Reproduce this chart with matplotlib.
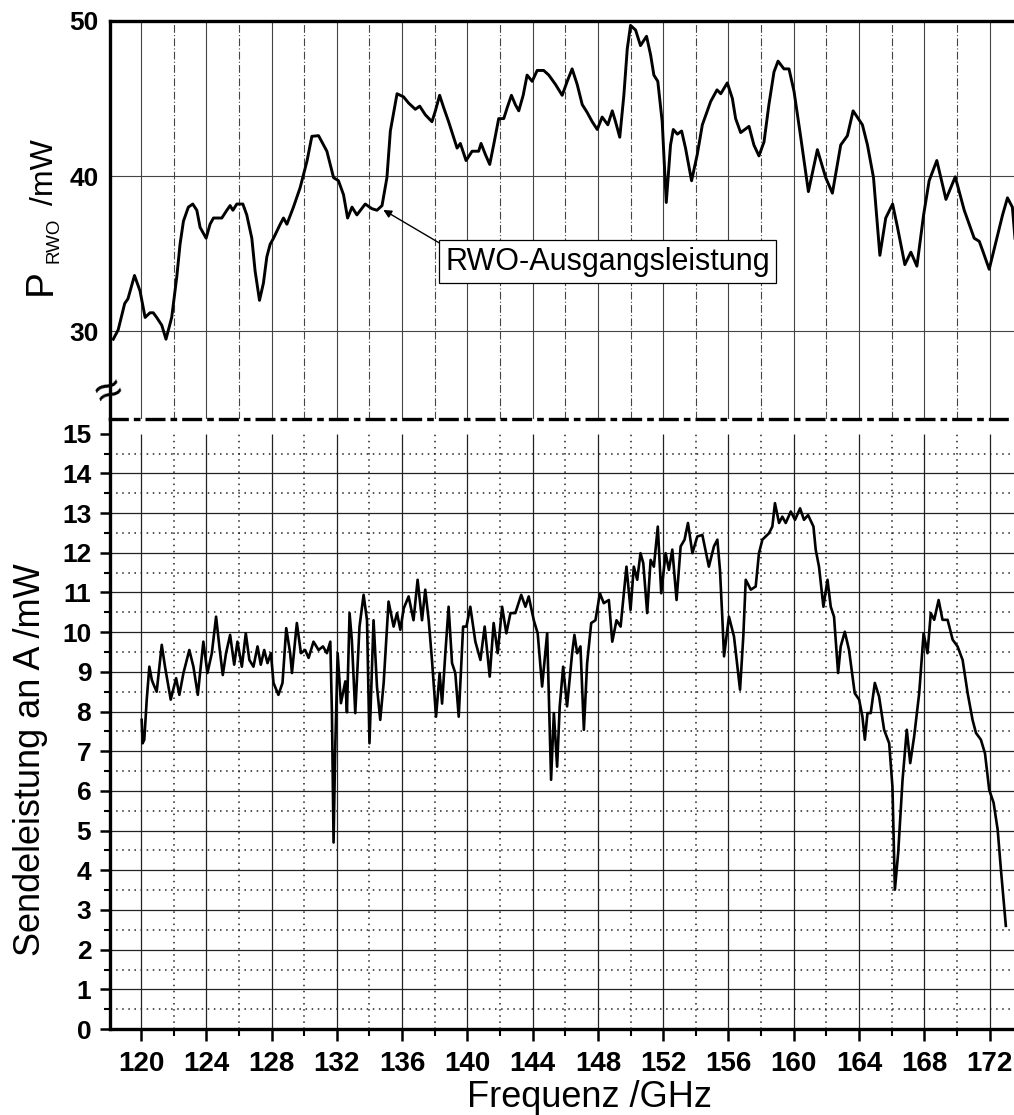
import matplotlib
matplotlib.use('Agg')
import matplotlib.pyplot as plt
import numpy as np

plt.rcParams['font.family'] = ['Liberation Sans', 'DejaVu Sans']

# RWO-Ausgangsleistung (oberes Diagramm), GHz / mW
rwo_freq = [118.3, 118.6, 119.0, 119.2, 119.6, 119.94, 120.25, 120.55, 120.75, 120.96,
            121.27, 121.53, 121.88, 122.19, 122.39, 122.6, 122.9, 123.17, 123.42, 123.62,
            123.99, 124.23, 124.44, 124.95, 125.26, 125.46, 125.63, 125.87, 126.24, 126.48,
            126.79, 126.99, 127.26, 127.5, 127.71, 127.91, 128.12, 128.53, 128.73, 128.94,
            129.34, 129.75, 130.17, 130.47, 130.88, 131.39, 131.8, 132.1, 132.41, 132.66,
            132.93, 133.23, 133.74, 134.15, 134.46, 134.77, 135.07, 135.28, 135.69, 136.09,
            136.4, 136.81, 137.08, 137.42, 137.83, 138.04, 138.3, 138.55, 138.85, 139.16,
            139.37, 139.57, 139.92, 140.29, 140.69, 140.84, 141.1, 141.37, 141.61, 141.92,
            142.23, 142.44, 142.7, 142.94, 143.15, 143.42, 143.66, 143.97, 144.28, 144.68,
            144.99, 145.4, 145.81, 146.12, 146.42, 146.73, 147.04, 147.34, 147.65, 147.96,
            148.26, 148.61, 148.88, 149.08, 149.34, 149.59, 149.8, 150.0, 150.31, 150.61,
            150.98, 151.23, 151.43, 151.67, 151.94, 152.19, 152.45, 152.62, 152.87, 153.13,
            153.37, 153.74, 154.09, 154.4, 154.91, 155.3, 155.53, 155.93, 156.24, 156.44,
            156.75, 157.26, 157.56, 157.87, 158.18, 158.48, 158.79, 159.04, 159.4, 159.71,
            160.02, 160.43, 160.9, 161.45, 161.96, 162.37, 162.88, 163.29, 163.64, 164.21,
            164.52, 164.89, 165.28, 165.64, 166.06, 166.36, 166.81, 167.18, 167.55, 167.96,
            168.3, 168.77, 169.33, 169.9, 170.45, 171.06, 171.37, 171.58, 171.98, 172.8,
            173.1, 173.4, 173.56]
rwo_power = [29.5, 30.1, 31.8, 32.1, 33.6, 32.6, 30.9, 31.2, 31.2, 30.9,
             30.4, 29.5, 30.9, 33.5, 35.6, 37.1, 38.0, 38.2, 37.8, 36.7,
             36.0, 36.9, 37.3, 37.3, 37.8, 38.1, 37.8, 38.2, 38.2, 37.5,
             36.0, 33.9, 32.0, 33.1, 34.8, 35.6, 36.0, 36.9, 37.3, 36.9,
             38.0, 39.25, 40.96, 42.56, 42.6, 41.6, 39.9, 39.7, 38.8, 37.3,
             38.0, 37.5, 38.2, 37.9, 37.8, 38.1, 39.9, 42.9, 45.3, 45.1,
             44.7, 44.3, 44.5, 43.95, 43.5, 44.2, 45.2, 44.4, 43.5, 42.5,
             41.8, 42.1, 41.0, 41.6, 41.6, 42.1, 41.4, 40.75, 42.0, 43.7,
             43.7, 44.4, 45.2, 44.6, 44.2, 45.2, 46.5, 46.1, 46.8, 46.8,
             46.5, 45.9, 45.2, 46.1, 46.9, 45.9, 44.6, 44.1, 43.5, 43.0,
             43.8, 43.3, 44.2, 43.5, 42.5, 45.2, 48.2, 49.7, 49.4, 48.4,
             49.0, 47.8, 46.5, 46.1, 43.5, 38.3, 42.0, 43.0, 42.7, 42.9,
             41.8, 39.7, 41.4, 43.3, 44.8, 45.55, 45.3, 46.0, 45.0, 43.7,
             42.8, 43.2, 42.0, 41.3, 42.2, 44.6, 46.7, 47.4, 46.9, 46.9,
             45.45, 42.5, 39.0, 41.7, 39.9, 38.9, 42.0, 42.6, 44.2, 43.3,
             42.0, 39.9, 34.9, 37.3, 38.2, 36.7, 34.3, 35.1, 34.2, 37.5,
             39.7, 41.0, 38.5, 39.95, 37.8, 36.0, 35.8, 35.2, 34.0, 37.5,
             38.6, 38.0, 36.0]

# Sendeleistung an A (unteres Diagramm), GHz / mW
send_freq = [120.04, 120.1, 120.2, 120.35, 120.51, 120.66, 120.75, 120.96, 121.27, 121.47,
             121.82, 122.15, 122.35, 122.6, 122.96, 123.21, 123.48, 123.62, 123.82, 124.07,
             124.34, 124.6, 124.8, 125.01, 125.21, 125.46, 125.71, 125.91, 126.18, 126.42,
             126.64, 126.89, 127.14, 127.34, 127.55, 127.75, 127.96, 128.12, 128.42, 128.67,
             128.9, 129.14, 129.25, 129.55, 129.8, 130.06, 130.27, 130.57, 130.88, 131.15,
             131.39, 131.6, 131.7, 131.8, 131.9, 132.05, 132.25, 132.52, 132.62, 132.78,
             132.92, 133.13, 133.39, 133.64, 133.85, 134.0, 134.25, 134.46, 134.66, 134.87,
             135.17, 135.48, 135.69, 135.89, 136.1, 136.4, 136.7, 136.95, 137.22, 137.42,
             137.63, 137.83, 138.08, 138.3, 138.45, 138.65, 138.85, 139.06, 139.26, 139.47,
             139.74, 139.94, 140.18, 140.49, 140.8, 141.06, 141.37, 141.61, 141.86, 142.13,
             142.39, 142.64, 142.94, 143.3, 143.56, 143.76, 144.07, 144.31, 144.58, 144.89,
             145.13, 145.3, 145.5, 145.66, 145.87, 146.11, 146.42, 146.56, 146.73, 146.93,
             147.14, 147.34, 147.59, 147.85, 148.12, 148.36, 148.67, 148.88, 149.14, 149.39,
             149.75, 150.0, 150.2, 150.41, 150.61, 150.78, 151.02, 151.23, 151.43, 151.67,
             151.88, 152.15, 152.35, 152.56, 152.82, 153.07, 153.31, 153.52, 153.79, 154.09,
             154.4, 154.8, 155.11, 155.32, 155.48, 155.63, 155.73, 156.03, 156.34, 156.71,
             156.91, 157.06, 157.37, 157.67, 157.87, 158.08, 158.48, 158.69, 158.85, 159.1,
             159.3, 159.51, 159.82, 160.08, 160.39, 160.63, 160.88, 161.21, 161.35, 161.55,
             161.82, 162.07, 162.27, 162.47, 162.72, 162.88, 163.13, 163.39, 163.74, 164.01,
             164.21, 164.36, 164.52, 164.72, 164.97, 165.23, 165.54, 165.85, 166.05, 166.2,
             166.4, 166.67, 166.93, 167.14, 167.38, 167.69, 167.96, 168.2, 168.4, 168.61,
             168.88, 169.12, 169.43, 169.74, 170.04, 170.35, 170.66, 170.96, 171.17, 171.47,
             171.72, 171.98, 172.25, 172.5, 172.7, 173.0]
send_power = [7.79, 7.2, 7.29, 8.3, 9.13, 8.8, 8.7, 8.5, 9.68, 9.13,
              8.3, 8.84, 8.42, 8.97, 9.55, 9.13, 8.42, 8.97, 9.76, 8.97,
              9.47, 10.39, 9.64, 8.92, 9.47, 9.93, 9.18, 9.76, 9.13, 9.97,
              9.3, 9.13, 9.64, 9.18, 9.55, 9.22, 9.47, 8.72, 8.42, 8.72,
              10.1, 9.47, 8.97, 10.23, 9.47, 9.55, 9.35, 9.76, 9.55, 9.64,
              9.47, 9.76, 7.96, 4.7, 7.04, 9.47, 8.21, 8.76, 7.98, 10.48,
              9.8, 7.96, 10.14, 10.94, 10.3, 7.2, 10.3, 8.63, 7.79, 8.72,
              10.77, 10.14, 10.48, 10.06, 10.6, 10.9, 10.3, 11.32, 10.3, 11.07,
              10.3, 9.3, 7.87, 8.97, 8.2, 9.47, 10.64, 9.22, 8.97, 7.87,
              10.14, 10.14, 10.64, 9.76, 9.3, 10.14, 8.88, 10.23, 9.47, 10.64,
              9.97, 10.48, 10.48, 10.94, 10.64, 10.9, 10.3, 9.97, 8.63, 9.97,
              6.28, 7.96, 6.61, 8.13, 9.13, 8.13, 9.47, 9.93, 9.47, 9.64,
              7.54, 9.22, 10.23, 10.3, 10.98, 10.73, 10.81, 9.76, 10.3, 10.14,
              11.65, 10.56, 11.65, 11.32, 11.99, 11.74, 10.48, 11.82, 11.65, 12.66,
              10.98, 11.99, 11.57, 12.08, 10.81, 12.16, 12.33, 12.75, 11.99, 12.41,
              12.45, 11.65, 12.16, 12.33, 11.57, 10.31, 9.39, 10.39, 9.89, 8.55,
              9.89, 11.32, 11.07, 11.15, 11.99, 12.33, 12.49, 12.66, 13.25, 12.75,
              12.91, 12.75, 13.04, 12.83, 13.12, 12.83, 12.95, 12.66, 12.07, 11.65,
              10.64, 11.32, 10.64, 10.39, 8.97, 9.64, 10.01, 9.55, 8.46, 8.3,
              7.87, 7.29, 7.96, 7.96, 8.72, 8.38, 7.54, 7.2, 6.11, 3.51,
              4.43, 6.28, 7.54, 6.7, 7.37, 8.46, 9.97, 9.47, 10.48, 10.31,
              10.81, 10.31, 10.31, 9.81, 9.64, 9.3, 8.46, 7.79, 7.46, 7.29,
              6.95, 6.03, 5.7, 5.02, 4.01, 2.6]

xmin, xmax = 118.1, 173.5

fig = plt.figure(figsize=(10.14, 11.15), dpi=100)
ax_top = fig.add_axes([0.1085, 0.6242, 0.8915, 0.3572])
ax_bot = fig.add_axes([0.1085, 0.0771, 0.8915, 0.5471])

# --- oberes Diagramm ---
ax_top.set_xlim(xmin, xmax)
ax_top.set_ylim(24.36, 50)
for xv in np.arange(120, 174, 2):
    ls = '-' if xv % 4 == 0 else (0, (7, 2, 1, 2))
    ax_top.vlines(xv, 24.36, 50, colors='#444444', linewidth=0.8, linestyles=ls, zorder=1)
ax_top.hlines([30, 40], xmin, xmax, colors='#444444', linewidth=0.8, zorder=1)
ax_top.plot(rwo_freq, rwo_power, color='black', linewidth=2.1, zorder=3)

ax_top.spines['bottom'].set_visible(False)
ax_top.spines['right'].set_visible(False)
ax_top.spines['top'].set_linewidth(2.4)
ax_top.spines['left'].set_linewidth(2.4)
ax_top.tick_params(axis='x', which='both', bottom=False, labelbottom=False)
ax_top.set_yticks([30, 40, 50])
ax_top.set_yticklabels(['30', '40', '50'], fontweight='bold', fontsize=19)
ax_top.tick_params(axis='y', length=0, pad=8)

ax_top.annotate('RWO-Ausgangsleistung', xy=(134.85, 37.82), xytext=(138.65, 34.5),
                ha='left', va='center', fontsize=22,
                bbox=dict(boxstyle='square,pad=0.2', fc='white', ec='black', lw=0.9),
                arrowprops=dict(arrowstyle='-|>', color='black', lw=1.0, relpos=(0, 1),
                                shrinkA=0, shrinkB=0, mutation_scale=12),
                zorder=5)

# Achsenbruch
ax_top.text(0.0, 0.065, '\u2248', transform=ax_top.transAxes, fontsize=34,
            rotation=25, ha='center', va='center', clip_on=False)

# --- unteres Diagramm ---
ax_bot.set_xlim(xmin, xmax)
ax_bot.set_ylim(0, 15.37)
for yv in np.arange(1, 15):
    ax_bot.hlines(yv, xmin, xmax, colors='#222222', linewidth=0.9, zorder=1)
for yv in np.arange(0.5, 15, 1):
    ax_bot.hlines(yv, xmin, xmax, colors='#222222', linewidth=1.1,
                  linestyles=(0, (1, 3)), zorder=1)
for xv in np.arange(120, 174, 4):
    ax_bot.vlines(xv, 0, 15, colors='#222222', linewidth=0.9, zorder=1)
for xv in np.arange(122, 174, 4):
    ax_bot.vlines(xv, 0, 15, colors='#222222', linewidth=1.1,
                  linestyles=(0, (1, 3)), zorder=1)
ax_bot.plot(send_freq, send_power, color='black', linewidth=1.9, zorder=3)

ax_bot.spines['right'].set_visible(False)
ax_bot.spines['top'].set_linewidth(2.4)
ax_bot.spines['top'].set_linestyle((0, (5, 2.5, 1, 2.5)))
ax_bot.spines['left'].set_linewidth(2.4)
ax_bot.spines['bottom'].set_linewidth(2.4)

xt = np.arange(120, 173, 4)
ax_bot.set_xticks(xt)
ax_bot.set_xticklabels([str(v) for v in xt], fontweight='bold', fontsize=20)
ax_bot.set_xticks(np.arange(122, 174, 4), minor=True)
yt = np.arange(0, 16)
ax_bot.set_yticks(yt)
ax_bot.set_yticklabels([str(v) for v in yt], fontweight='bold', fontsize=19)
ax_bot.set_yticks(np.arange(0.5, 15, 1), minor=True)
ax_bot.tick_params(axis='x', which='major', direction='out', length=8.5, width=1.8, pad=7)
ax_bot.tick_params(axis='x', which='minor', direction='out', length=5, width=1.5)
ax_bot.tick_params(axis='y', which='major', direction='out', length=7.5, width=1.8, pad=6)
ax_bot.tick_params(axis='y', which='minor', direction='out', length=4, width=1.5)

# Achsenbeschriftungen
fig.text(589 / 1014, 1 - 1107 / 1115, 'Frequenz /GHz', fontsize=26,
         ha='center', va='baseline')
fig.text(40 / 1014, 1 - 760 / 1115, 'Sendeleistung an A /mW', fontsize=26,
         rotation=90, rotation_mode='anchor', ha='center', va='baseline')
fig.text(50.5 / 1014, 1 - 295 / 1115, 'P', fontsize=28,
         rotation=90, rotation_mode='anchor', ha='left', va='baseline')
fig.text(58.5 / 1014, 1 - 263 / 1115, 'RWO', fontsize=13.5,
         rotation=90, rotation_mode='anchor', ha='left', va='baseline')
fig.text(53 / 1014, 1 - 205 / 1115, '/mW', fontsize=23,
         rotation=90, rotation_mode='anchor', ha='left', va='baseline')

fig.savefig('out.png', dpi=100)
